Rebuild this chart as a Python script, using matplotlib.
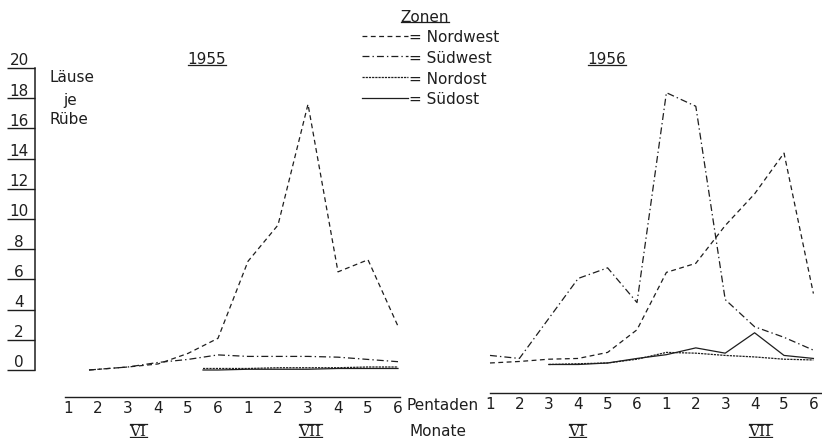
import matplotlib
matplotlib.use("Agg")
import matplotlib.pyplot as plt
from matplotlib.lines import Line2D

# Pentaden (1-6 im Juni = VI, 1-6 im Juli = VII)
pentaden = list(range(1, 13))
pentaden_labels = ["1", "2", "3", "4", "5", "6", "1", "2", "3", "4", "5", "6"]
y_ticks = list(range(0, 21, 2))

# 1955 - Läuse je Rübe
nw55_x = [1.7, 3, 4, 5, 6, 7, 8, 9, 10, 11, 12]
nw55_y = [0.0, 0.2, 0.4, 1.1, 2.1, 7.2, 9.6, 17.6, 6.5, 7.3, 2.9]
sw55_x = [1.7, 3, 4, 5, 6, 7, 8, 9, 10, 11, 12]
sw55_y = [0.0, 0.2, 0.5, 0.7, 1.0, 0.9, 0.9, 0.9, 0.85, 0.7, 0.55]
no55_x = [5.5, 6, 7, 8, 9, 10, 11, 12]
no55_y = [0.1, 0.1, 0.1, 0.15, 0.15, 0.15, 0.2, 0.2]
so55_x = [5.5, 6, 7, 8, 9, 10, 11, 12]
so55_y = [0.0, 0.0, 0.05, 0.05, 0.05, 0.1, 0.1, 0.1]

# 1956
nw56_x = list(range(1, 13))
nw56_y = [0.2, 0.3, 0.45, 0.5, 0.9, 2.4, 6.2, 6.8, 9.3, 11.4, 14.1, 4.8]
sw56_x = [1, 2, 4, 5, 6, 7, 8, 9, 10, 11, 12]
sw56_y = [0.7, 0.5, 5.8, 6.5, 4.2, 18.1, 17.2, 4.4, 2.6, 1.9, 1.05]
no56_x = [3, 4, 5, 6, 7, 8, 9, 10, 11, 12]
no56_y = [0.1, 0.15, 0.2, 0.45, 0.9, 0.85, 0.7, 0.6, 0.45, 0.4]
so56_x = [3, 4, 5, 6, 7, 8, 9, 10, 11, 12]
so56_y = [0.1, 0.1, 0.2, 0.5, 0.75, 1.2, 0.85, 2.2, 0.7, 0.5]

zonen = ["Nordwest", "Südwest", "Nordost", "Südost"]

plt.rcParams["font.family"] = ["DejaVu Sans"]
plt.rcParams["lines.scale_dashes"] = False
ink = "#1e1e1e"
styles = {
    "Nordwest": (0, (3.5, 2.5)),
    "Südwest": (0, (5, 2.2, 1, 2.2)),
    "Nordost": (0, (1.6, 0.7)),
    "Südost": "-",
}
lw = 0.9

W, H = 822, 439
fig = plt.figure(figsize=(W / 100, H / 100), dpi=100)


def px_axes(left, top, right, bottom):
    return fig.add_axes([left / W, 1 - bottom / H, (right - left) / W, (bottom - top) / H])


def ftext(x, y, s, **kw):
    kw.setdefault("fontsize", 11)
    kw.setdefault("color", ink)
    return fig.text(x / W, 1 - y / H, s, **kw)


# pixel scale of the drawing: 0 at y=371, 20 at y=69
unit = (371 - 69) / 20.0
ax1 = px_axes(35, 60, 405, 420)
ax2 = px_axes(470, 56, 822, 416)
ylim = ((371 - 420) / unit, (371 - 60) / unit)
ax1.set_ylim(*ylim)
ax2.set_ylim(*ylim)
ax1.set_xlim((35 - 38) / 30.0, (405 - 38) / 30.0)
ax2.set_xlim((470 - 460.6) / 29.4, (822 - 460.6) / 29.4)

for ax, data in [
    (ax1, [(nw55_x, nw55_y), (sw55_x, sw55_y), (no55_x, no55_y), (so55_x, so55_y)]),
    (ax2, [(nw56_x, nw56_y), (sw56_x, sw56_y), (no56_x, no56_y), (so56_x, so56_y)]),
]:
    for z, (xs, ys) in zip(zonen, data):
        ax.plot(xs, ys, color=ink, lw=lw, linestyle=styles[z])
    ax.set_facecolor("none")
    for s in ["top", "right"]:
        ax.spines[s].set_visible(False)
    ax.spines["bottom"].set_position(("data", -1.8))
    ax.spines["bottom"].set_color(ink)
    ax.spines["bottom"].set_linewidth(1.0)
    ax.set_xticks(pentaden)
    ax.set_xticklabels(pentaden_labels)
    ax.tick_params(axis="x", length=0, pad=2, labelsize=11, labelcolor=ink)

ax1.spines["bottom"].set_bounds(0.9, 12.05)
ax2.spines["bottom"].set_bounds(1.0, 12.4)

# y axis (only on the 1955 part)
ax1.spines["left"].set_bounds(0, 20)
ax1.spines["left"].set_color(ink)
ax1.spines["left"].set_linewidth(1.1)
ax1.set_yticks(y_ticks)
ax1.tick_params(axis="y", length=20, width=1.0, direction="out", color=ink, labelleft=False)
for v in y_ticks:
    ax1.annotate(str(v), xy=(0, v), xycoords=("axes fraction", "data"),
                 xytext=(-11.5, 0.5), textcoords="offset points",
                 ha="center", va="bottom", fontsize=11, color=ink)

ax2.spines["left"].set_visible(False)
ax2.set_yticks([])

# texts
underlined = []
underlined.append(ftext(207, 60, "1955", ha="center", va="center"))
underlined.append(ftext(607, 60, "1956", ha="center", va="center"))
underlined.append(ftext(425, 17, "Zonen", ha="center", va="center"))
ftext(49, 78, "Läuse", ha="left", va="center")
ftext(63, 100, "je", ha="left", va="center")
ftext(49, 119, "Rübe", ha="left", va="center")
ftext(406, 406, "Pentaden", ha="left", va="center")
ftext(409, 432, "Monate", ha="left", va="center")
roman_base = 436
roman = []
for x, s in [(138, "VI"), (310, "VII"), (577, "VI"), (760, "VII")]:
    roman.append(ftext(x, roman_base, s, ha="center", va="baseline", family="DejaVu Serif"))

handles = [Line2D([], [], color=ink, lw=lw, linestyle=styles[z]) for z in zonen]
fig.legend(handles, ["= " + z for z in zonen], loc="upper left",
           bbox_to_anchor=(362 / W, 1 - 30 / H), frameon=False, fontsize=11,
           handlelength=3.0, handletextpad=0.05, labelspacing=0.38,
           borderpad=0, borderaxespad=0, labelcolor=ink)

fig.canvas.draw()
r = fig.canvas.get_renderer()
inv = fig.transFigure.inverted()
for t in underlined:
    bb = t.get_window_extent(r).transformed(inv)
    fig.add_artist(Line2D([bb.x0, bb.x1], [bb.y0 + 0.004, bb.y0 + 0.004],
                          transform=fig.transFigure, color=ink, lw=0.9))
# roman numerals: bar under the baseline and over the cap height
for t in roman:
    bb = t.get_window_extent(r).transformed(inv)
    base = 1 - roman_base / H
    cap = base + 11.5 / H
    for yy in (base - 1.5 / H, cap):
        fig.add_artist(Line2D([bb.x0, bb.x1], [yy, yy],
                              transform=fig.transFigure, color=ink, lw=0.9))

fig.savefig("out.png", dpi=100, facecolor="white")
